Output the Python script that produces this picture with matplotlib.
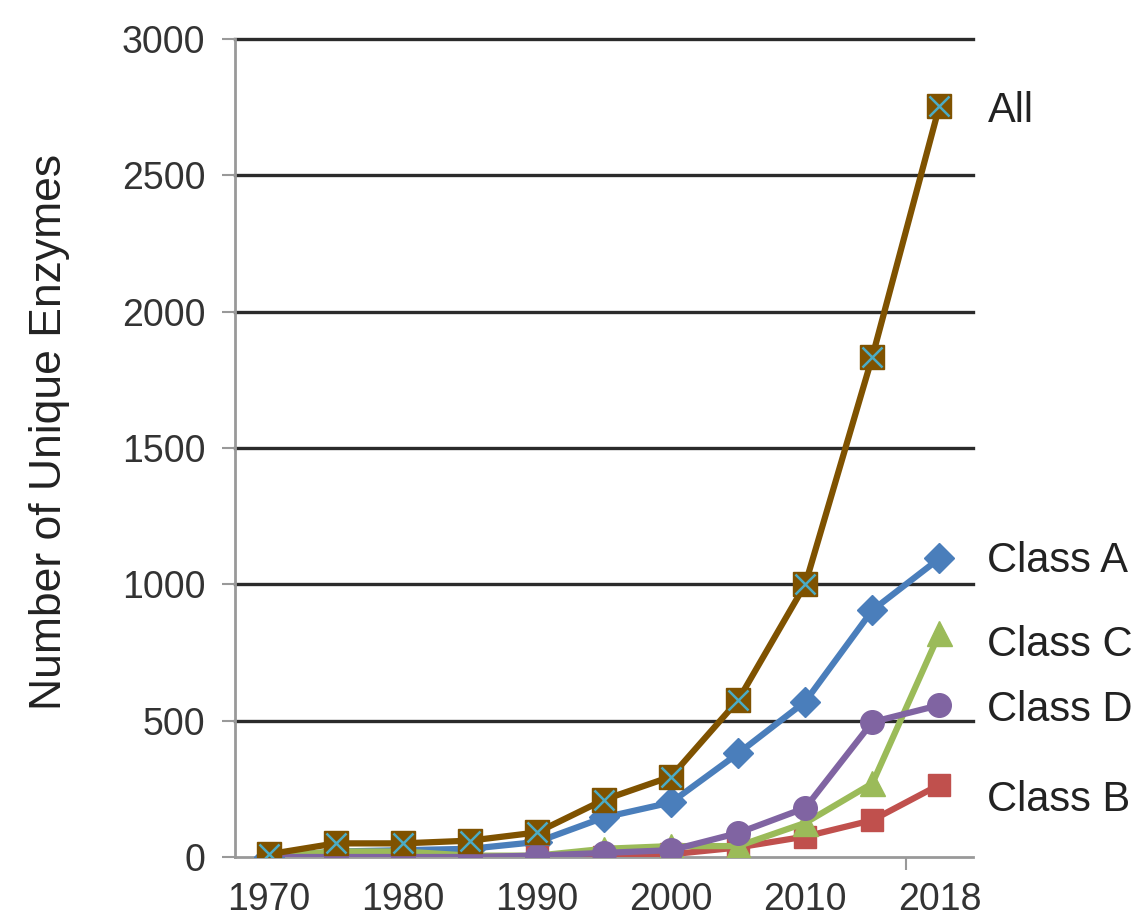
import numpy as np
import matplotlib.pyplot as plt

plt.rcParams['font.family'] = ['Liberation Sans', 'DejaVu Sans']

years = ['1970', '1975', '1980', '1985', '1990', '1995', '2000', '2005', '2010', '2015', '2018']
tick_labels = ['1970', '1980', '1990', '2000', '2010', '2018']

class_a = [0, 20, 25, 30, 55, 145, 200, 380, 570, 905, 1095]
class_b = [0, 0, 0, 0, 0, 0, 10, 35, 75, 135, 265]
class_c = [0, 20, 20, 5, 5, 30, 40, 40, 125, 270, 820]
class_d = [0, 0, 0, 0, 5, 15, 25, 88, 180, 495, 557]
all_enz = [10, 50, 50, 60, 90, 210, 295, 575, 1000, 1835, 2755]

x = np.arange(len(years))

fig = plt.figure(figsize=(11.45, 9.22), dpi=100)
ax = fig.add_axes([235 / 1145, 65 / 922, 738 / 1145, 818 / 922])

lw = 4.5
ax.plot(x, class_a, color='#4A7EBB', lw=lw, marker='D', ms=15, zorder=3)
ax.plot(x, class_b, color='#C0504D', lw=lw, marker='s', ms=16, zorder=4)
ax.plot(x, class_c, color='#9BBB59', lw=lw, marker='^', ms=18, zorder=5)
ax.plot(x, class_d, color='#8064A2', lw=lw, marker='o', ms=17, zorder=6)
ax.plot(x, all_enz, color='#7F5200', lw=lw, marker='s', ms=17, zorder=7)
ax.plot(x, all_enz, ls='none', marker='x', ms=15, mew=1.8, color='#4BACC6', zorder=8)

# series labels at line ends (offset in pixels, negative = down)
labels = [('All', all_enz[-1], -5), ('Class A', class_a[-1], -3),
          ('Class C', class_c[-1], -12), ('Class D', class_d[-1], -5),
          ('Class B', class_b[-1], -15)]
for name, val, dy in labels:
    ax.annotate(name, xy=(x[-1], val), xytext=(48, dy), textcoords='offset pixels',
                ha='left', va='center', fontsize=30, color='#222222',
                annotation_clip=False)

ax.set_xlim(-0.5, 10.5)
ax.set_ylim(0, 3000)
ax.set_yticks(np.arange(0, 3001, 500))
ax.set_xticks(x[::2])
ax.set_xticklabels(tick_labels)
ax.set_xticks([9.5], minor=True)

for y in range(500, 3001, 500):
    ax.axhline(y, color='#2b2b2b', lw=2.4, zorder=1, clip_on=False)

for s in ['top', 'right']:
    ax.spines[s].set_visible(False)
for s in ['left', 'bottom']:
    ax.spines[s].set_color('#999999')
    ax.spines[s].set_linewidth(2)

ax.tick_params(axis='y', length=9.5, width=1.5, color='#999999', pad=12,
               labelsize=27, labelcolor='#333333')
ax.tick_params(axis='x', which='major', length=0, pad=18, labelsize=27,
               labelcolor='#333333')
ax.tick_params(axis='x', which='minor', length=9.5, width=1.5, color='#999999')

fig.text(50 / 1145, 1 - 432 / 922, 'Number of Unique Enzymes', rotation=90,
         ha='center', va='center', fontsize=32, color='#222222')

fig.savefig('out.png', dpi=100)
